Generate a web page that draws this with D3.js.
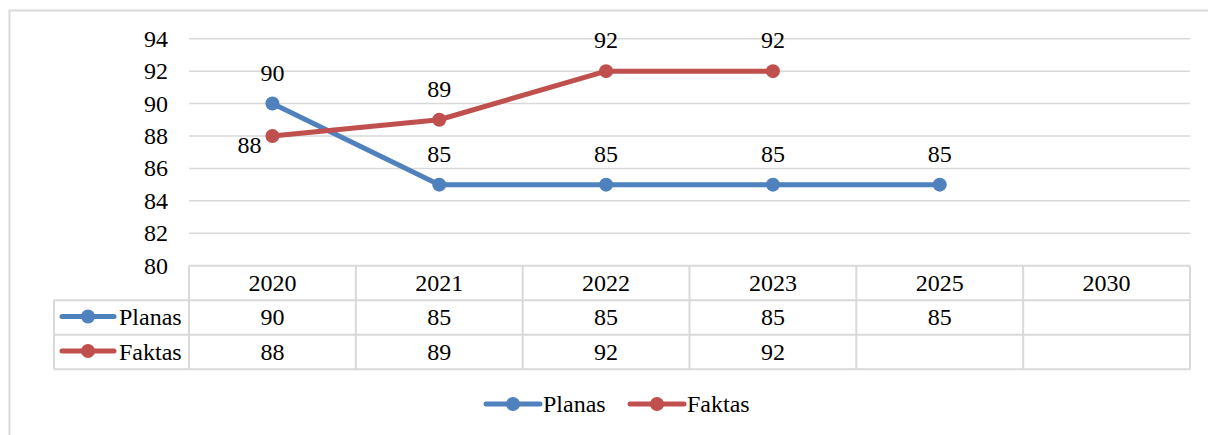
<!DOCTYPE html>
<html>
<head>
<meta charset="utf-8">
<script src="https://cdn.jsdelivr.net/npm/d3@7"></script>
</head>
<body style="margin:0;background:#fff">
<svg id="chart" width="1208" height="435"></svg>
<script>
// chart data
const years = ["2020", "2021", "2022", "2023", "2025", "2030"];
const planas = [90, 85, 85, 85, 85, null];
const faktas = [88, 89, 92, 92, null, null];
const yTicks = [80, 82, 84, 86, 88, 90, 92, 94];

const series = [
  { name: "Planas", values: planas, color: "#4f81bd" },
  { name: "Faktas", values: faktas, color: "#c0504d" },
];

const svg = d3.select("#chart");
const gridColor = "#d9d9d9";
const fontSize = 24;

// outer frame (runs off the page to the right and bottom)
svg.append("rect")
  .attr("x", 9.5).attr("y", 10.5)
  .attr("width", 1300).attr("height", 500)
  .attr("fill", "none")
  .attr("stroke", gridColor)
  .attr("stroke-width", 2);

// scales
const x = d3.scaleBand()
  .domain(years)
  .range([189, 1190])
  .padding(0);

const y = d3.scaleLinear()
  .domain([80, 94])
  .range([265.7, 38.7]);

// gridlines
svg.append("g")
  .selectAll("line")
  .data(yTicks.slice(1))
  .join("line")
  .attr("x1", x.range()[0]).attr("x2", x.range()[1])
  .attr("y1", d => y(d)).attr("y2", d => y(d))
  .attr("stroke", gridColor)
  .attr("stroke-width", 1.5);

// y tick labels
svg.append("g")
  .selectAll("text")
  .data(yTicks)
  .join("text")
  .attr("font-family", "Liberation Serif")
  .attr("font-size", fontSize)
  .attr("text-anchor", "end")
  .attr("x", 168)
  .attr("y", d => y(d) + 8)
  .text(d => d);

// lines and markers
const line = d3.line()
  .defined(d => d.v != null)
  .x(d => x(d.year) + x.bandwidth() / 2)
  .y(d => y(d.v));

series.forEach(s => {
  const pts = years.map((year, i) => ({ year, v: s.values[i] }));
  svg.append("path")
    .datum(pts)
    .attr("d", line)
    .attr("fill", "none")
    .attr("stroke", s.color)
    .attr("stroke-width", 5)
    .attr("stroke-linejoin", "round");

  svg.append("g")
    .selectAll("circle")
    .data(pts.filter(d => d.v != null))
    .join("circle")
    .attr("cx", d => x(d.year) + x.bandwidth() / 2)
    .attr("cy", d => y(d.v))
    .attr("r", 7)
    .attr("fill", s.color);
});

// data labels
series.forEach(s => {
  const pts = years.map((year, i) => ({ year, v: s.values[i], i }))
    .filter(d => d.v != null);
  svg.append("g")
    .selectAll("text")
    .data(pts)
    .join("text")
    .attr("font-family", "Liberation Serif")
    .attr("font-size", fontSize)
    .attr("text-anchor", d => (s.name === "Faktas" && d.i === 0) ? "end" : "middle")
    .attr("x", d => {
      const cx = x(d.year) + x.bandwidth() / 2;
      return (s.name === "Faktas" && d.i === 0) ? cx - 11 : cx;
    })
    .attr("y", d => (s.name === "Faktas" && d.i === 0) ? y(d.v) + 17 : y(d.v) - 23)
    .text(d => d.v);
});

// data table
const tableTop = y(80);
const rowH = 34.5;
const tableLeft = 54;
const [colStart, colEnd] = x.range();
const table = svg.append("g");

// header row top
table.append("line")
  .attr("x1", colStart).attr("x2", colEnd)
  .attr("y1", tableTop).attr("y2", tableTop);
// horizontal row lines
table.selectAll(".row-line")
  .data([1, 2, 3])
  .join("line")
  .attr("x1", tableLeft).attr("x2", colEnd)
  .attr("y1", d => tableTop + d * rowH).attr("y2", d => tableTop + d * rowH);
// vertical column lines
table.selectAll(".col-line")
  .data(years.concat(["end"]))
  .join("line")
  .attr("x1", (d, i) => colStart + i * x.bandwidth())
  .attr("x2", (d, i) => colStart + i * x.bandwidth())
  .attr("y1", tableTop).attr("y2", tableTop + 3 * rowH);
// left edge of series rows
table.append("line")
  .attr("x1", tableLeft).attr("x2", tableLeft)
  .attr("y1", tableTop + rowH).attr("y2", tableTop + 3 * rowH);
table.selectAll("line")
  .attr("stroke", gridColor)
  .attr("stroke-width", 2);

// header labels
table.selectAll(".year")
  .data(years)
  .join("text")
  .attr("font-family", "Liberation Serif")
  .attr("font-size", fontSize)
  .attr("text-anchor", "middle")
  .attr("x", d => x(d) + x.bandwidth() / 2)
  .attr("y", tableTop + rowH / 2 + 8)
  .text(d => d);

// series rows
series.forEach((s, r) => {
  const rowMid = tableTop + (r + 1) * rowH + rowH / 2;
  table.append("line")
    .attr("x1", 62).attr("x2", 114)
    .attr("y1", rowMid - 1).attr("y2", rowMid - 1)
    .attr("stroke", s.color).attr("stroke-width", 5)
    .attr("stroke-linecap", "round");
  table.append("circle")
    .attr("cx", 88).attr("cy", rowMid - 1).attr("r", 7)
    .attr("fill", s.color);
  table.append("text")
    .attr("font-family", "Liberation Serif")
    .attr("font-size", fontSize)
    .attr("x", 119).attr("y", rowMid + 8)
    .text(s.name);
  table.append("g")
    .selectAll("text")
    .data(years.map((year, i) => ({ year, v: s.values[i] })).filter(d => d.v != null))
    .join("text")
    .attr("font-family", "Liberation Serif")
    .attr("font-size", fontSize)
    .attr("text-anchor", "middle")
    .attr("x", d => x(d.year) + x.bandwidth() / 2)
    .attr("y", rowMid + 8)
    .text(d => d.v);
});

// bottom legend
const legendY = 404;
const legendX = [486, 630];
series.forEach((s, i) => {
  const g = svg.append("g").attr("transform", `translate(${legendX[i]},${legendY})`);
  g.append("line")
    .attr("x1", 0).attr("x2", 54)
    .attr("stroke", s.color).attr("stroke-width", 5)
    .attr("stroke-linecap", "round");
  g.append("circle").attr("cx", 27).attr("r", 7).attr("fill", s.color);
  g.append("text")
    .attr("font-family", "Liberation Serif")
    .attr("font-size", fontSize)
    .attr("x", 57).attr("y", 8)
    .text(s.name);
});
</script>
</body>
</html>
